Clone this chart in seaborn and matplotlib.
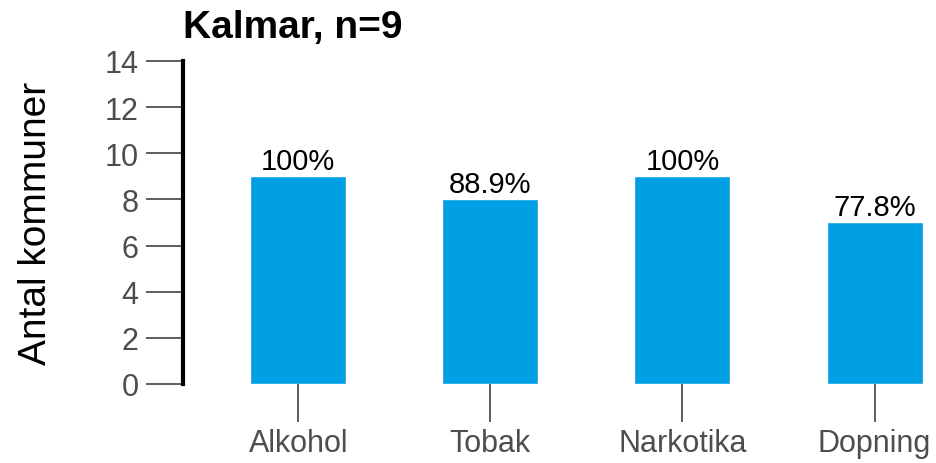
import matplotlib
matplotlib.use("Agg")
import matplotlib.pyplot as plt
import seaborn as sns
import pandas as pd

categories = ["Alkohol", "Tobak", "Narkotika", "Dopning"]
counts = [9, 8, 9, 7]
pct_labels = ["100%", "88.9%", "100%", "77.8%"]

df = pd.DataFrame({"kategori": categories, "antal": counts})

sns.set_style("white")
plt.rcParams["font.family"] = ["Liberation Sans", "DejaVu Sans"]

fig = plt.figure(figsize=(9.36, 4.64), dpi=100)
ax = fig.add_axes([0.1955, 0.1703, 0.8045, 0.6961])

sns.barplot(data=df, x="kategori", y="antal", color="#009FE3", width=0.5,
            saturation=1, ax=ax)
ax.bar_label(ax.containers[0], labels=pct_labels, padding=1, fontsize=21, color="black")

ax.set_ylim(0, 14)
ax.set_xlim(-0.6, 3.32)
ax.set_yticks(range(0, 15, 2))

for s in ["top", "right", "bottom"]:
    ax.spines[s].set_visible(False)
ax.spines["left"].set_linewidth(3)
ax.spines["left"].set_color("black")

ax.tick_params(axis="both", length=27, width=1.1, color="#333333",
               labelsize=22, labelcolor="#4d4d4d", pad=5)
ax.tick_params(axis="y", left=True)
ax.tick_params(axis="x", bottom=True)

ax.set_xlabel("")
ax.set_ylabel("Antal kommuner", fontsize=28, color="black", labelpad=36)
ax.set_title("Kalmar, n=9", loc="left", fontsize=28, fontweight="bold",
             color="black", pad=17)

fig.savefig("out.png", dpi=100)
